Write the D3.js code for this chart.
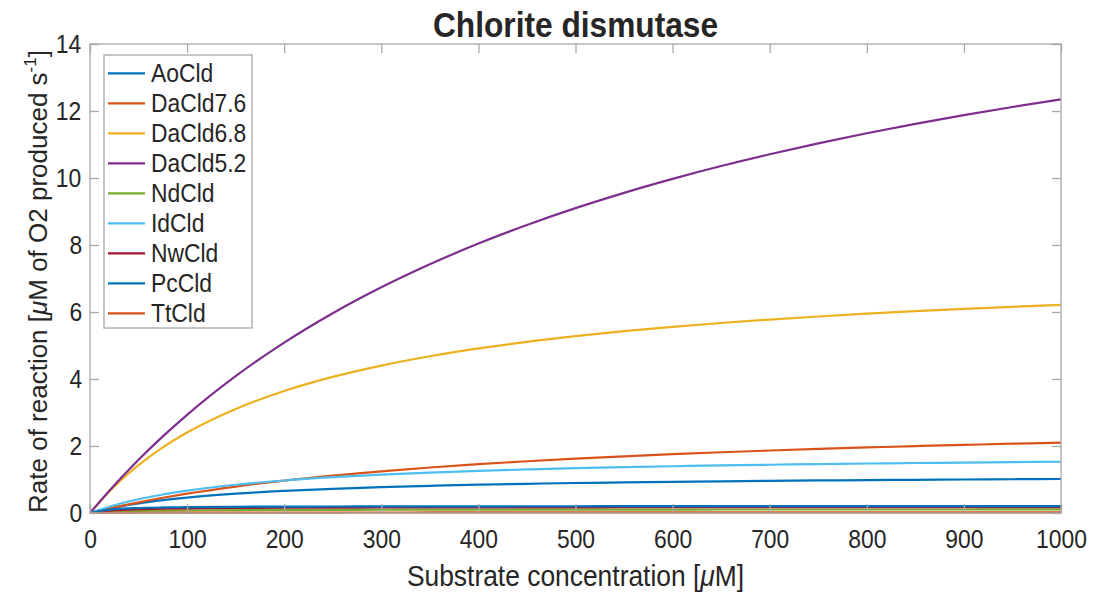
<!DOCTYPE html>
<html><head><meta charset="utf-8">
<script src="https://cdn.jsdelivr.net/npm/d3@7"></script>
<style>
body{margin:0;background:#fff;}
svg text{font-family:"Liberation Sans",Arial,Helvetica,sans-serif;fill:#262626;}
.sq{transform-box:fill-box;transform-origin:center;transform:scaleX(0.88);}
.sql{transform-box:fill-box;transform-origin:left center;transform:scaleX(0.88);}
</style></head>
<body>
<svg id="c" width="1095" height="592"></svg>
<script>
const xs = [0,25,50,75,100,150,200,250,300,350,400,450,500,550,600,650,700,750,800,850,900,950,1000];
const names = ["AoCld","DaCld7.6","DaCld6.8","DaCld5.2","NdCld","IdCld","NwCld","PcCld","TtCld"];
const colors = ["#0072BD","#D95319","#EDB120","#7E2F8E","#77AC30","#4DBEEE","#A2142F","#0072BD","#D95319"];
const AoCld   = [0,0.163,0.286,0.382,0.460,0.576,0.660,0.723,0.773,0.812,0.845,0.872,0.895,0.914,0.931,0.946,0.960,0.971,0.982,0.991,1.000,1.008,1.015];
const DaCld76 = [0,0.168,0.319,0.454,0.576,0.787,0.965,1.115,1.245,1.358,1.457,1.545,1.623,1.693,1.756,1.813,1.865,1.913,1.956,1.997,2.034,2.068,2.100];
const DaCld68 = [0,0.789,1.428,1.957,2.401,3.107,3.643,4.062,4.401,4.679,4.912,5.110,5.280,5.428,5.558,5.672,5.775,5.866,5.949,6.024,6.092,6.154,6.211];
const DaCld52 = [0,0.828,1.587,2.286,2.931,4.085,5.086,5.963,6.737,7.425,8.042,8.597,9.100,9.557,9.974,10.357,10.709,11.034,11.336,11.616,11.876,12.120,12.347];
const NdCld   = [0,0.042,0.061,0.072,0.079,0.087,0.092,0.095,0.097,0.099,0.100,0.101,0.102,0.103,0.103,0.104,0.104,0.104,0.105,0.105,0.105,0.106,0.106];
const IdCld   = [0,0.231,0.410,0.552,0.667,0.843,0.971,1.069,1.146,1.207,1.258,1.301,1.338,1.369,1.396,1.420,1.441,1.460,1.477,1.492,1.506,1.518,1.530];
const NwCld   = [0,0.082,0.113,0.129,0.138,0.150,0.157,0.161,0.164,0.166,0.167,0.169,0.170,0.171,0.171,0.172,0.173,0.173,0.173,0.174,0.174,0.174,0.175];
const PcCld   = [0,0.117,0.150,0.166,0.175,0.185,0.191,0.194,0.197,0.199,0.200,0.201,0.202,0.203,0.203,0.204,0.204,0.205,0.205,0.205,0.205,0.206,0.206];
const TtCld   = [0,0.004,0.007,0.009,0.010,0.012,0.013,0.014,0.015,0.016,0.016,0.016,0.017,0.017,0.017,0.017,0.018,0.018,0.018,0.018,0.018,0.018,0.018];
const seriesValues = [AoCld,DaCld76,DaCld68,DaCld52,NdCld,IdCld,NwCld,PcCld,TtCld];
const xTicks = [0,100,200,300,400,500,600,700,800,900,1000];
const yTicks = [0,2,4,6,8,10,12,14];

const L=90,R=1061,T=44,B=513;
const svg=d3.select("#c");
const x=d3.scaleLinear().domain([0,1000]).range([L,R]);
const y=d3.scaleLinear().domain([0,14]).range([B,T]);
const axisCol="#a8a8a8";

// lines
const line=d3.line().x(d=>x(d[0])).y(d=>y(d[1])).curve(d3.curveMonotoneX);
seriesValues.forEach((vals,i)=>{
  svg.append("path").datum(xs.map((v,j)=>[v,vals[j]]))
    .attr("d",line).attr("fill","none").attr("stroke",colors[i]).attr("stroke-width",2.2);
});

// box
svg.append("rect").attr("x",L).attr("y",T).attr("width",R-L).attr("height",B-T)
  .attr("fill","none").attr("stroke",axisCol).attr("stroke-width",1.3);

function styleAxis(g){
  g.select(".domain").remove();
  g.selectAll(".tick line").attr("stroke",axisCol).attr("stroke-width",1.3);
  g.selectAll(".tick text").attr("class","sq").style("font-size","26px").attr("fill","#262626");
}
const tl=9;
svg.append("g").attr("transform",`translate(0,${B})`)
  .call(d3.axisBottom(x).tickValues(xTicks).tickSize(-tl).tickPadding(17).tickFormat(d3.format("d")))
  .call(styleAxis);
svg.append("g").attr("transform",`translate(0,${T})`)
  .call(d3.axisTop(x).tickValues(xTicks).tickSize(-tl).tickFormat(""))
  .call(styleAxis);
svg.append("g").attr("transform",`translate(${L},0)`)
  .call(d3.axisLeft(y).tickValues(yTicks).tickSize(-tl).tickPadding(7).tickFormat(d3.format("d")))
  .call(styleAxis);
svg.append("g").attr("transform",`translate(${R},0)`)
  .call(d3.axisRight(y).tickValues(yTicks).tickSize(-tl).tickFormat(""))
  .call(styleAxis);

// title
svg.append("text").attr("class","sq").attr("x",(L+R)/2).attr("y",37).attr("text-anchor","middle")
  .style("font-size","36px").style("font-weight","bold").attr("fill","#000").text("Chlorite dismutase");

// x label
const xl=svg.append("text").attr("class","sq").attr("x",(L+R)/2).attr("y",586).attr("text-anchor","middle").style("font-size","30px");
xl.append("tspan").text("Substrate concentration [");
xl.append("tspan").style("font-style","italic").text("μ");
xl.append("tspan").text("M]");

// y label
const yl=svg.append("text").attr("transform",`translate(47,${(T+B)/2+3}) rotate(-90)`).attr("text-anchor","middle").style("font-size","26px");
yl.append("tspan").text("Rate of reaction [");
yl.append("tspan").style("font-style","italic").text("μ");
yl.append("tspan").text("M of O2 produced s");
yl.append("tspan").attr("dy",-11).style("font-size","17px").text("-1");
yl.append("tspan").attr("dy",11).text("]");

// legend
const lg=svg.append("g");
lg.append("rect").attr("x",104).attr("y",55).attr("width",148).attr("height",273)
  .attr("fill","#fff").attr("stroke",axisCol).attr("stroke-width",1.3);
names.forEach((n,i)=>{
  const cy=73.3+i*30;
  lg.append("line").attr("x1",108).attr("x2",145).attr("y1",cy).attr("y2",cy)
    .attr("stroke",colors[i]).attr("stroke-width",2.2);
  lg.append("text").attr("class","sql").attr("x",151).attr("y",cy+9).style("font-size","26px").text(n);
});
</script>
</body></html>
